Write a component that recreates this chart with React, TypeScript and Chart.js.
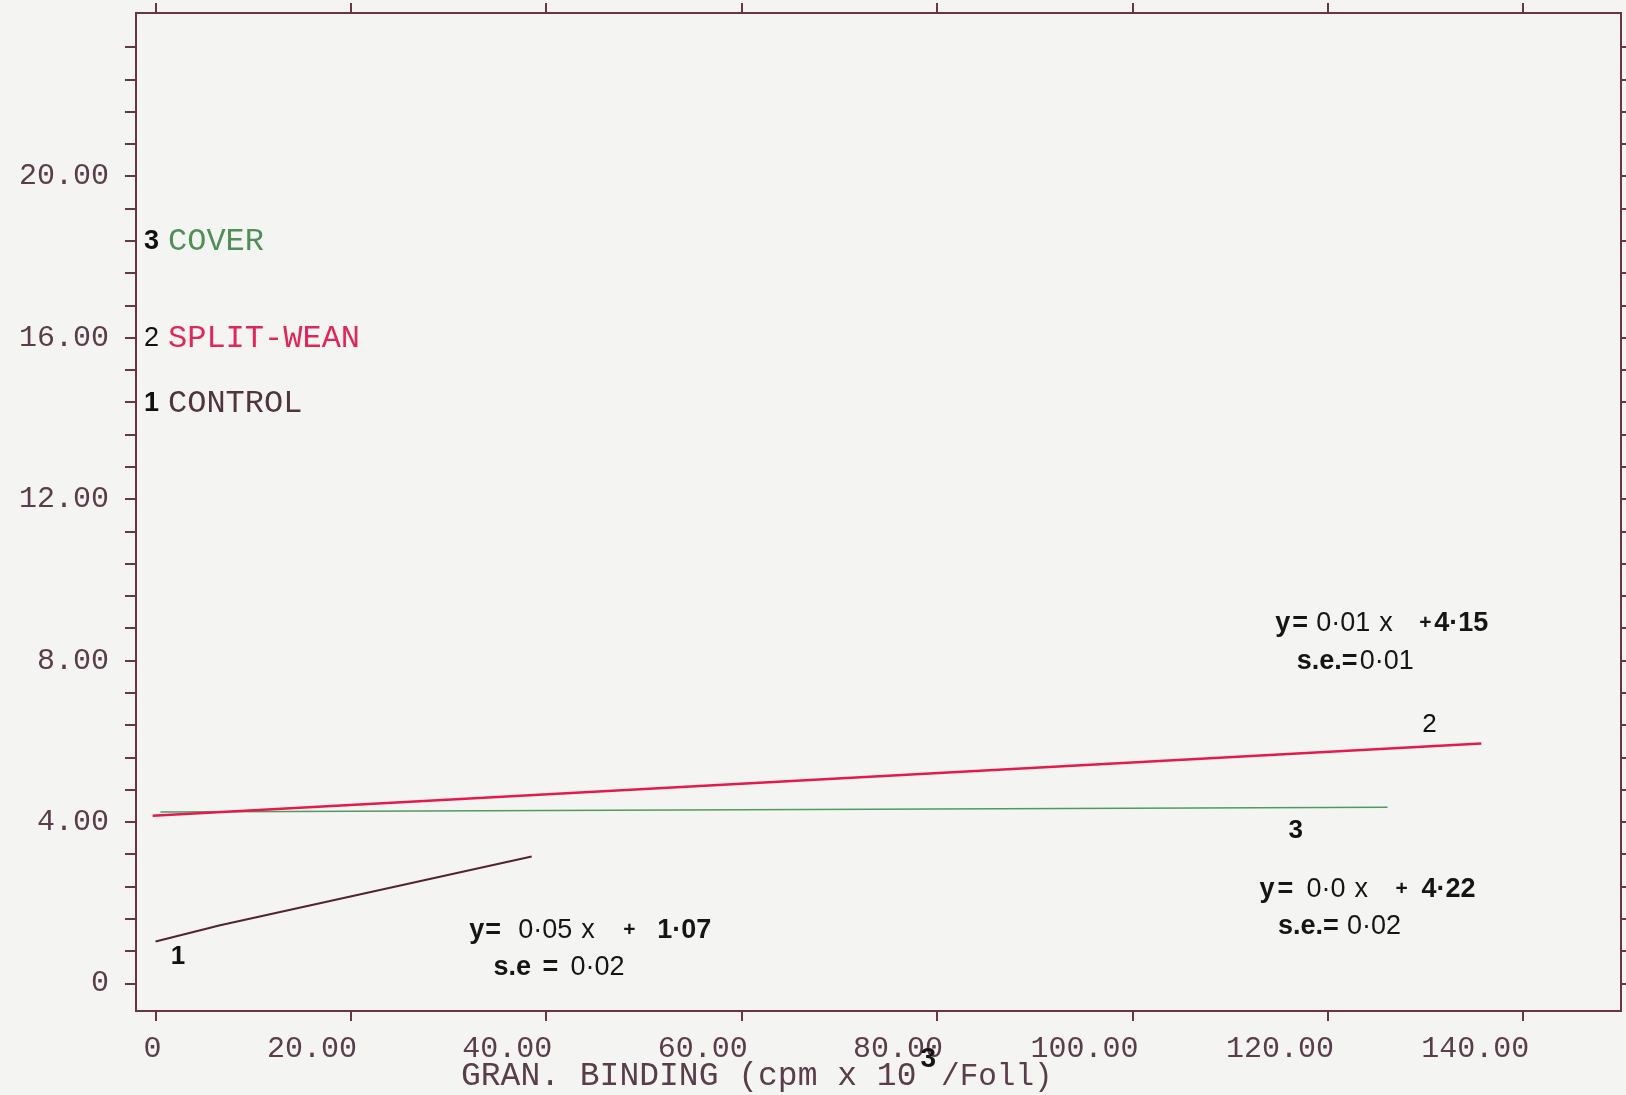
import React, { useEffect, useRef } from "react";
import { Chart, registerables } from "chart.js";

Chart.register(...registerables);

// ---------- data ----------
const X_MIN = -2;
const X_MAX = 150;
const Y_MIN = -0.68;
const Y_MAX = 24.05;

const xTickValues = [0, 20, 40, 60, 80, 100, 120, 140];
const xTickLabels = ["0", "20.00", "40.00", "60.00", "80.00", "100.00", "120.00", "140.00"];

const yLabelValues = [0, 4, 8, 12, 16, 20];
const yLabelTexts = ["0", "4.00", "8.00", "12.00", "16.00", "20.00"];
const yMinorTenths = 8; // minor tick every 0.8
const yMinorCount = 30; // 0 .. 23.2

const controlX = [0, 5.7, 6.5, 38.5];
const controlY = [1.04, 1.39, 1.44, 3.15];
const splitX = [-0.3, 135.7];
const splitY = [4.16, 5.95];
const coverX = [0.5, 126.1];
const coverY = [4.25, 4.37];

const seriesNames = ["CONTROL", "SPLIT-WEAN", "COVER"];
const seriesNumbers = ["1", "2", "3"];
const seriesNumberBold = [true, false, true];
const seriesColors = ["#55222f", "#e5194b", "#4f9a5c"];
const legendTextColors = ["#4e3540", "#e0265a", "#4f8f58"];
const legendY = [14.4, 16.0, 18.4];

const tagText = ["1", "2", "3"];
const tagX = [2.3, 130.4, 116.7];
const tagY = [0.67, 6.4, 3.78];
const tagBold = [true, false, true];

const eqLine1 = ["y", "=", "0·05", "x", "+", "1·07"];
const eqSe1 = ["s.e", "=", "0·02"];
const eqLine2 = ["y", "=", "0·01", "x", "+", "4·15"];
const eqSe2 = ["s.e.=", "0·01"];
const eqLine3 = ["y", "=", "0·0", "x", "+", "4·22"];
const eqSe3 = ["s.e.=", "0·02"];

const xTitleMain = "GRAN. BINDING (cpm x 10";
const xTitleSup = "3";
const xTitleTail = "/Foll)";

// ---------- styles / layout ----------
const BG = "#f4f5f3";
const AXIS = "#6a3545";
const TICK_TEXT = "#5a3d4a";
const MONO = "'Liberation Mono', 'DejaVu Sans Mono', monospace";
const SANS = "'Liberation Sans', Arial, sans-serif";

// equation layout: anchor in data coords, segment offsets in px
const eqRowLayout = [
  { x: 32.1, y: 1.32, parts: eqLine1, dx: [0, 16, 49, 112, 154, 188], bold: [1, 1, 0, 0, 1, 1] },
  { x: 34.6, y: 0.4, parts: eqSe1, dx: [0, 49, 77], bold: [1, 1, 0] },
  { x: 114.6, y: 8.93, parts: eqLine2, dx: [0, 17, 41, 104, 144, 159], bold: [1, 1, 0, 0, 1, 1] },
  { x: 116.8, y: 7.99, parts: eqSe2, dx: [0, 63], bold: [1, 0] },
  { x: 113.0, y: 2.33, parts: eqLine3, dx: [0, 18, 47, 95, 136, 162], bold: [1, 1, 0, 0, 1, 1] },
  { x: 114.9, y: 1.41, parts: eqSe3, dx: [0, 69], bold: [1, 0] },
];

const yMinorTicks = Array.from({ length: yMinorCount }, (_, k) => Math.round(k * yMinorTenths) / 10);

const bgPlugin = {
  id: "bgFill",
  beforeDraw(chart: any) {
    const { ctx, width, height } = chart;
    ctx.save();
    ctx.fillStyle = BG;
    ctx.fillRect(0, 0, width, height);
    ctx.restore();
  },
};

const annotPlugin = {
  id: "annot",
  afterDatasetsDraw(chart: any) {
    const { ctx } = chart;
    const xs = chart.scales.x;
    const ys = chart.scales.y;
    const left = chart.chartArea.left;
    ctx.save();
    ctx.textBaseline = "middle";
    ctx.textAlign = "left";

    // legend inside the plot, by the y axis
    for (let i = 0; i < seriesNames.length; i++) {
      const py = ys.getPixelForValue(legendY[i]);
      ctx.fillStyle = "#111";
      ctx.font = `${seriesNumberBold[i] ? "bold " : ""}27px ${SANS}`;
      ctx.fillText(seriesNumbers[i], left + 8, py + 1);
      ctx.fillStyle = legendTextColors[i];
      ctx.font = `32px ${MONO}`;
      ctx.fillText(seriesNames[i], left + 32, py + 1);
    }

    // line tags
    for (let i = 0; i < tagText.length; i++) {
      ctx.fillStyle = "#111";
      ctx.font = `${tagBold[i] ? "bold " : ""}26px ${SANS}`;
      ctx.textAlign = "center";
      ctx.fillText(tagText[i], xs.getPixelForValue(tagX[i]), ys.getPixelForValue(tagY[i]));
    }
    ctx.textAlign = "left";

    // equations
    for (const row of eqRowLayout) {
      const px = xs.getPixelForValue(row.x);
      const py = ys.getPixelForValue(row.y);
      row.parts.forEach((t, j) => {
        const small = t === "+";
        ctx.font = `${row.bold[j] ? "bold " : ""}${small ? 21 : 27}px ${SANS}`;
        ctx.fillStyle = "#151515";
        ctx.fillText(t, px + row.dx[j], py);
      });
    }

    // x axis title
    const ty = 1076;
    ctx.fillStyle = TICK_TEXT;
    ctx.font = `33px ${MONO}`;
    let tx = 461;
    ctx.fillText(xTitleMain, tx, ty);
    tx += ctx.measureText(xTitleMain).width;
    ctx.fillStyle = "#151515";
    ctx.font = `bold 28px ${SANS}`;
    ctx.fillText(xTitleSup, tx + 4, ty - 17);
    tx += ctx.measureText(xTitleSup).width + 9;
    ctx.fillStyle = TICK_TEXT;
    ctx.font = `31px ${MONO}`;
    ctx.fillText(xTitleTail, tx, ty + 1);

    ctx.restore();
  },
};

function App() {
  const canvasRef = useRef<HTMLCanvasElement | null>(null);

  useEffect(() => {
    if (!canvasRef.current) return;
    const gridCommon = {
      drawOnChartArea: false,
      drawTicks: true,
      color: AXIS,
      lineWidth: 2,
    };
    const borderCommon = { display: true, color: AXIS, width: 2 };
    const fitH = (h: number) => (s: any) => {
      s.height = h;
      s.paddingLeft = 0;
      s.paddingRight = 0;
    };
    const fitW = (w: number) => (s: any) => {
      s.width = w;
      s.paddingTop = 0;
      s.paddingBottom = 0;
    };

    const chart = new Chart(canvasRef.current, {
      type: "line",
      data: {
        datasets: [
          {
            label: seriesNames[0],
            data: controlX.map((x, i) => ({ x, y: controlY[i] })),
            borderColor: seriesColors[0],
            borderWidth: 2,
            pointRadius: 0,
            tension: 0,
            fill: false,
          },
          {
            label: seriesNames[1],
            data: splitX.map((x, i) => ({ x, y: splitY[i] })),
            borderColor: seriesColors[1],
            borderWidth: 2.5,
            pointRadius: 0,
            tension: 0,
            fill: false,
          },
          {
            label: seriesNames[2],
            data: coverX.map((x, i) => ({ x, y: coverY[i] })),
            borderColor: seriesColors[2],
            borderWidth: 1.5,
            pointRadius: 0,
            tension: 0,
            fill: false,
          },
        ],
      },
      options: {
        animation: false,
        responsive: false,
        maintainAspectRatio: false,
        events: [],
        layout: { padding: 0 },
        plugins: {
          legend: { display: false },
          tooltip: { enabled: false },
          title: { display: false },
        },
        scales: {
          x: {
            type: "linear",
            position: "bottom",
            min: X_MIN,
            max: X_MAX,
            afterBuildTicks: (s: any) => {
              s.ticks = xTickValues.map((v) => ({ value: v }));
            },
            afterFit: fitH(84),
            grid: { ...gridCommon, tickLength: 10 },
            border: borderCommon,
            ticks: {
              autoSkip: false,
              maxRotation: 0,
              minRotation: 0,
              align: "end",
              labelOffset: 6,
              padding: 10,
              color: TICK_TEXT,
              font: { family: MONO, size: 30 },
              callback: (v: any) => {
                const i = xTickValues.indexOf(v);
                return i >= 0 ? xTickLabels[i] : "";
              },
            },
          },
          xTop: {
            type: "linear",
            axis: "x",
            position: "top",
            min: X_MIN,
            max: X_MAX,
            afterBuildTicks: (s: any) => {
              s.ticks = xTickValues.map((v) => ({ value: v }));
            },
            afterFit: fitH(13),
            grid: { ...gridCommon, tickLength: 10 },
            border: borderCommon,
            ticks: { display: false },
          },
          y: {
            type: "linear",
            position: "left",
            min: Y_MIN,
            max: Y_MAX,
            afterBuildTicks: (s: any) => {
              s.ticks = yMinorTicks.map((v) => ({ value: v }));
            },
            afterFit: fitW(136),
            grid: { ...gridCommon, tickLength: 11 },
            border: borderCommon,
            ticks: {
              autoSkip: false,
              padding: 16,
              color: TICK_TEXT,
              font: { family: MONO, size: 30 },
              callback: (v: any) => {
                const i = yLabelValues.indexOf(v);
                return i >= 0 ? yLabelTexts[i] : "";
              },
            },
          },
          yRight: {
            type: "linear",
            axis: "y",
            position: "right",
            min: Y_MIN,
            max: Y_MAX,
            afterBuildTicks: (s: any) => {
              s.ticks = yMinorTicks.map((v) => ({ value: v }));
            },
            afterFit: fitW(5),
            grid: { ...gridCommon, tickLength: 5 },
            border: borderCommon,
            ticks: { display: false },
          },
        },
      } as any,
      plugins: [bgPlugin, annotPlugin],
    });
    return () => chart.destroy();
  }, []);

  return (
    <div style={{ position: "fixed", left: 0, top: 0, width: 1626, height: 1095, background: BG }}>
      <canvas ref={canvasRef} width={1626} height={1095} style={{ display: "block" }} />
    </div>
  );
}

export default App;
